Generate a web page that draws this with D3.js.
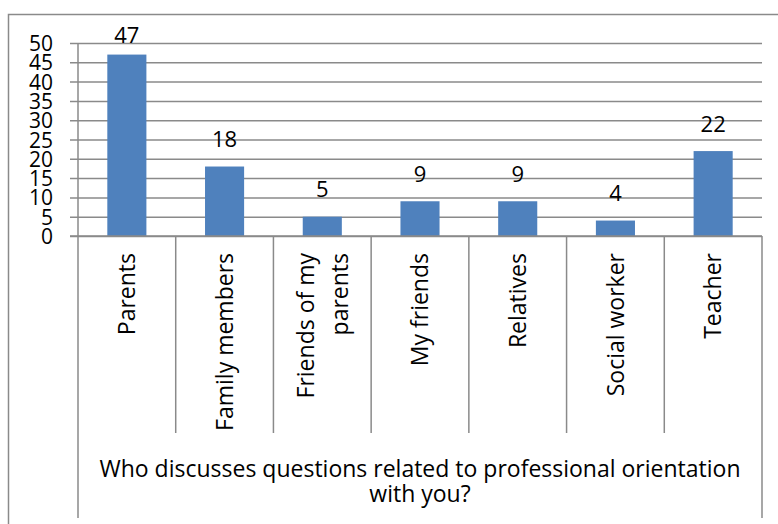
<!DOCTYPE html>
<html>
<head>
<meta charset="utf-8">
<script src="https://cdn.jsdelivr.net/npm/d3@7"></script>
<style>
html,body{margin:0;padding:0;background:#fff;}
svg{display:block;}
text{font-family:"Open Sans",sans-serif;fill:#000;}
</style>
</head>
<body>
<svg id="chart" width="778" height="524"></svg>
<script>
const categories = ["Parents","Family members","Friends of my\nparents","My friends","Relatives","Social worker","Teacher"];
const values = [47,18,5,9,9,4,22];
const yTicks = [0,5,10,15,20,25,30,35,40,45,50];
const axisTitle = ["Who discusses questions related to professional orientation","with you?"];

(function(){
const svg = d3.select("#chart");
const W = 778, H = 524;
const pL = 78, pR = 762, pT = 43, pB = 236;
const grey = "#8a8a8a";

svg.append("rect").attr("x",0).attr("y",0).attr("width",W).attr("height",H).attr("fill","#fff");
// outer chart border
svg.append("rect").attr("x",8.5).attr("y",14.5).attr("width",900).attr("height",700)
  .attr("fill","none").attr("stroke",grey).attr("stroke-width",1.5);

const x = d3.scaleBand().domain(categories).range([pL,pR]).paddingInner(0.6).paddingOuter(0.3);
const xb = d3.scaleBand().domain(categories).range([pL,pR]).padding(0);
const y = d3.scaleLinear().domain([0,50]).range([pB,pT]);

// gridlines + y tick marks
const gy = svg.append("g").attr("transform",`translate(${pL},0)`)
  .call(d3.axisLeft(y).tickValues(yTicks).tickSize(8).tickFormat(d3.format("d")).tickPadding(17));
gy.select(".domain").remove();
gy.selectAll(".tick line").attr("stroke",grey).attr("stroke-width",1.5)
  .attr("x1",-8).attr("x2",pR-pL);
gy.selectAll(".tick text").attr("font-size",21).attr("fill","#000")
  .attr("font-family","'Open Sans',sans-serif").attr("dy","0.36em");

// y axis line
svg.append("line").attr("x1",pL).attr("x2",pL).attr("y1",pT).attr("y2",518)
  .attr("stroke",grey).attr("stroke-width",1.5);
svg.append("line").attr("x1",pR).attr("x2",pR).attr("y1",pB).attr("y2",518)
  .attr("stroke",grey).attr("stroke-width",1.5);

// category dividers
const bounds = categories.slice(1).map(c => xb(c));
svg.selectAll("line.div").data(bounds).enter().append("line").attr("class","div")
  .attr("x1",d=>d).attr("x2",d=>d).attr("y1",pB).attr("y2",433)
  .attr("stroke",grey).attr("stroke-width",1.5);

// bars
svg.selectAll("rect.bar").data(values).enter().append("rect").attr("class","bar")
  .attr("x",(d,i)=>x(categories[i])).attr("width",x.bandwidth())
  .attr("y",d=>y(d)).attr("height",d=>y(0)-y(d))
  .attr("fill","#4f81bd");

// x axis line
svg.append("line").attr("x1",pL-8).attr("x2",pR).attr("y1",pB).attr("y2",pB)
  .attr("stroke",grey).attr("stroke-width",1.5);

// value labels
svg.selectAll("text.val").data(values).enter().append("text").attr("class","val")
  .attr("x",(d,i)=>xb(categories[i])+xb.bandwidth()/2)
  .attr("y",d=>Math.max(y(d)-19.5,42.7))
  .attr("text-anchor","middle").attr("font-size",22).text(d=>d);

// category labels
categories.forEach((c,i)=>{
  const lines = c.split("\n");
  const cx = xb(c)+xb.bandwidth()/2;
  const t = svg.append("text").attr("transform",`translate(${cx},253) rotate(-90)`)
    .attr("text-anchor","end").attr("font-size",23);
  const sp = 34;
  lines.forEach((ln,j)=>{
    t.append("tspan").attr("x",0).attr("y",(j-(lines.length-1)/2)*sp).attr("dy","0.36em").text(ln);
  });
});

// axis title
axisTitle.forEach((ln,j)=>{
  svg.append("text").attr("x",(pL+pR)/2).attr("y",477+j*24.5)
    .attr("text-anchor","middle").attr("font-size",23).text(ln);
});
})();
</script>
</body>
</html>
